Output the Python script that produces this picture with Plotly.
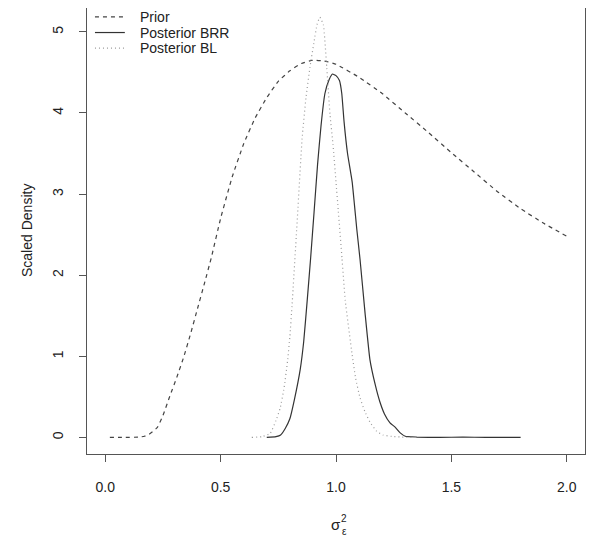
import plotly.graph_objects as go

# ---- data ----
prior_x = [0.02, 0.08, 0.15, 0.17, 0.19, 0.225, 0.25, 0.28, 0.31, 0.34, 0.37, 0.40,
           0.43, 0.46, 0.50, 0.55, 0.60, 0.65, 0.70, 0.75, 0.80, 0.85, 0.90, 0.95,
           1.00, 1.10, 1.20, 1.30, 1.40, 1.50, 1.60, 1.70, 1.80, 1.90, 2.00]
prior_y = [0.0, 0.0, 0.005, 0.015, 0.04, 0.12, 0.27, 0.51, 0.74, 0.99, 1.28, 1.59,
           1.90, 2.22, 2.70, 3.21, 3.62, 3.94, 4.19, 4.39, 4.52, 4.61, 4.65, 4.64,
           4.60, 4.44, 4.24, 4.00, 3.76, 3.51, 3.27, 3.03, 2.82, 2.64, 2.48]

brr_x = [0.70, 0.74, 0.76, 0.78, 0.80, 0.82, 0.845, 0.86, 0.875, 0.89, 0.905, 0.92,
         0.935, 0.952, 0.97, 0.985, 1.00, 1.015, 1.025, 1.035, 1.05, 1.07, 1.09,
         1.104, 1.126, 1.147, 1.17, 1.19, 1.21, 1.234, 1.255, 1.277, 1.30, 1.35,
         1.45, 1.55, 1.65, 1.80]
brr_y = [0.0, 0.01, 0.03, 0.11, 0.23, 0.47, 0.84, 1.18, 1.68, 2.21, 2.78, 3.36,
         3.84, 4.24, 4.41, 4.48, 4.46, 4.40, 4.24, 3.89, 3.50, 3.15, 2.57,
         2.20, 1.53, 0.96, 0.65, 0.44, 0.29, 0.18, 0.13, 0.06, 0.015, 0.005,
         0.0, 0.005, 0.0, 0.0]

bl_x = [0.635, 0.68, 0.715, 0.74, 0.758, 0.775, 0.79, 0.80, 0.81, 0.83, 0.853, 0.87,
        0.887, 0.905, 0.918, 0.93, 0.945, 0.96, 0.974, 0.987, 1.0, 1.01, 1.026,
        1.04, 1.07, 1.085, 1.104, 1.125, 1.147, 1.175, 1.203, 1.25, 1.33]
bl_y = [0.0, 0.01, 0.05, 0.21, 0.36, 0.61, 0.94, 1.24, 1.65, 2.58, 3.68, 4.19,
        4.56, 4.88, 5.09, 5.18, 5.09, 4.56, 3.98, 3.61, 3.15, 2.79, 2.21,
        1.69, 1.02, 0.73, 0.49, 0.32, 0.19, 0.08, 0.03, 0.01, 0.0]

x_ticks = [0.0, 0.5, 1.0, 1.5, 2.0]
y_ticks = [0, 1, 2, 3, 4, 5]

series_names = ["Prior", "Posterior BRR", "Posterior BL"]
series_colors = ["#444444", "#333333", "#9a9a9a"]
series_dash = ["4px,4px", "solid", "1px,3px"]

FONT = "Liberation Sans, Arial, sans-serif"
TXT = "#222222"

fig = go.Figure()

for xs, ys, name, col, dash in zip([prior_x, brr_x, bl_x], [prior_y, brr_y, bl_y],
                                   series_names, series_colors, series_dash):
    fig.add_trace(go.Scatter(
        x=xs, y=ys, mode="lines", name=name, showlegend=False,
        line=dict(color=col, width=1.2, dash=dash, shape="spline", smoothing=0.4)
    ))

axis_common = dict(
    showgrid=False, zeroline=False,
    showline=True, mirror=True, linecolor="#555555", linewidth=1,
    ticks="outside", ticklen=7, tickcolor="#555555",
    tickfont=dict(family=FONT, size=14, color=TXT),
)

fig.update_xaxes(range=[-0.079, 2.079], tickvals=x_ticks, tickformat=".1f",
                 ticklabelstandoff=13, **axis_common)
fig.update_yaxes(range=[-0.204, 5.294], tickvals=y_ticks, tickangle=-90,
                 ticklabelstandoff=10, **axis_common)

# R-style legend (no box) in the top left corner of the plot
for i, (name, col, dash) in enumerate(zip(series_names, series_colors, series_dash)):
    yy = 0.980 - i * 0.035
    fig.add_shape(type="line", xref="paper", yref="paper",
                  x0=0.016, x1=0.076, y0=yy, y1=yy,
                  line=dict(color=col, width=1.2, dash=dash))
    fig.add_annotation(text=name, xref="paper", yref="paper", x=0.102, y=yy,
                       xanchor="left", yanchor="middle", showarrow=False,
                       font=dict(family=FONT, size=14, color=TXT))

# axis titles (x title is a stacked sigma with super/subscript)
fig.add_annotation(text="Scaled Density", xref="paper", yref="paper", x=0, y=0.5,
                   xanchor="center", yanchor="middle", xshift=-60, textangle=-90,
                   showarrow=False, font=dict(family=FONT, size=14, color=TXT))
fig.add_annotation(text="σ", xref="paper", yref="paper", x=0.5, y=0,
                   xanchor="center", yanchor="middle", yshift=-70,
                   showarrow=False, font=dict(family=FONT, size=15, color=TXT))
fig.add_annotation(text="2", xref="paper", yref="paper", x=0.5, y=0,
                   xanchor="center", yanchor="middle", xshift=8, yshift=-64,
                   showarrow=False, font=dict(family=FONT, size=10, color=TXT))
fig.add_annotation(text="ε", xref="paper", yref="paper", x=0.5, y=0,
                   xanchor="center", yanchor="middle", xshift=8, yshift=-77,
                   showarrow=False, font=dict(family=FONT, size=10, color=TXT))

# the page body has an 8px margin, so the figure is offset by that much
fig.update_layout(
    width=593, height=530, autosize=False,
    margin=dict(l=79, r=16, t=0, b=84),
    plot_bgcolor="white", paper_bgcolor="white",
    showlegend=False,
)

fig.write_html("out.html")
